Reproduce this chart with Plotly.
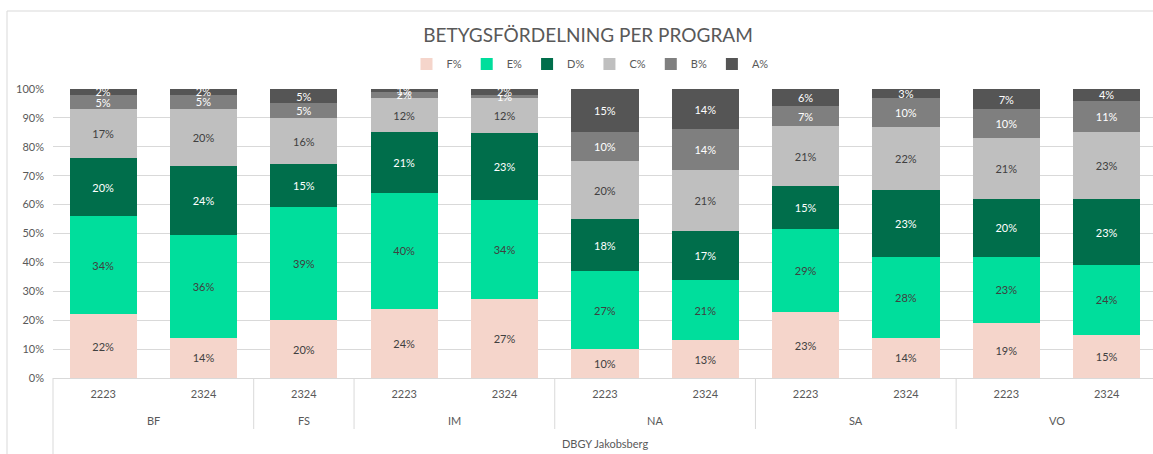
import plotly.graph_objects as go

programs = ["BF", "BF", "FS", "IM", "IM", "NA", "NA", "SA", "SA", "VO", "VO"]
years = ["2223", "2324", "2324", "2223", "2324", "2223", "2324", "2223", "2324", "2223", "2324"]
school = "DBGY Jakobsberg"

f_pct = [22, 14, 20, 24, 27, 10, 13, 23, 14, 19, 15]
e_pct = [34, 36, 39, 40, 34, 27, 21, 29, 28, 23, 24]
d_pct = [20, 24, 15, 21, 23, 18, 17, 15, 23, 20, 23]
c_pct = [17, 20, 16, 12, 12, 20, 21, 21, 22, 21, 23]
b_pct = [5, 5, 5, 2, 1, 10, 14, 7, 10, 10, 11]
a_pct = [2, 2, 5, 1, 2, 15, 14, 6, 3, 7, 4]

series = [
    ("F%", f_pct, "#F5D5CB", "#404040"),
    ("E%", e_pct, "#00DE9C", "#404040"),
    ("D%", d_pct, "#006E4B", "#FFFFFF"),
    ("C%", c_pct, "#BFBFBF", "#404040"),
    ("B%", b_pct, "#7F7F7F", "#FFFFFF"),
    ("A%", a_pct, "#555555", "#FFFFFF"),
]

cats = [f"{p} {y}" for p, y in zip(programs, years)]

FONT = "Lato"
fig = go.Figure()
for name, vals, color, tcolor in series:
    fig.add_trace(go.Bar(
        name=name,
        x=cats,
        y=vals,
        text=vals,
        texttemplate="%{text}%",
        textposition="inside",
        insidetextanchor="middle",
        constraintext="none",
        textfont=dict(color=tcolor, size=11, family=FONT),
        marker=dict(color=color, line=dict(width=0)),
    ))

W, H = 1153, 454
L, R, T, B = 53, 0, 89, 76
pw = W - L - R
ph = H - T - B

def px_x(p):
    return (p - L) / pw

def px_y(p):
    return (H - B - p) / ph

fig.update_layout(
    width=W, height=H,
    margin=dict(l=L, r=R, t=T, b=B),
    barmode="stack",
    barnorm="percent",
    bargap=0.33,
    paper_bgcolor="white",
    plot_bgcolor="white",
    font=dict(family=FONT, size=11, color="#595959"),
    uniformtext=dict(minsize=11, mode="show"),
    title=dict(
        text="BETYGSFÖRDELNING PER PROGRAM",
        x=588 / W, xanchor="center",
        y=1 - 35 / H, yanchor="middle",
        font=dict(size=19, color="#595959", family=FONT),
    ),
    legend=dict(
        orientation="h", x=590 / W, xref="container", xanchor="center",
        y=1 - 64 / H, yref="container", yanchor="middle",
        traceorder="normal",
        font=dict(size=11, color="#595959", family=FONT),
        itemwidth=30, itemsizing="constant",
    ),
    showlegend=True,
)

fig.update_yaxes(
    range=[0, 100], dtick=10, ticksuffix="%",
    showgrid=True, gridcolor="#D9D9D9", gridwidth=1,
    zeroline=False, showline=False,
    tickfont=dict(size=11, color="#595959", family=FONT),
    ticks="", ticklabelstandoff=8,
)
fig.update_xaxes(
    type="category",
    range=[-0.5, -0.5 + pw / 100.35],
    tickvals=cats, ticktext=years,
    showline=True, linecolor="#D9D9D9", linewidth=1,
    tickfont=dict(size=11, color="#595959", family=FONT),
    ticks="", ticklabelstandoff=6,
)

# program group labels and dividers
groups = []
for i, p in enumerate(programs):
    if groups and groups[-1][0] == p:
        groups[-1][2] = i
    else:
        groups.append([p, i, i])
for p, i0, i1 in groups:
    fig.add_annotation(text=p, xref="x", yref="paper",
                       x=(i0 + i1) / 2, y=px_y(420), showarrow=False,
                       xanchor="center", yanchor="middle",
                       font=dict(size=11, color="#595959", family=FONT))
for p, i0, i1 in groups[1:]:
    fig.add_shape(type="line", xref="x", yref="paper",
                  x0=i0 - 0.5, x1=i0 - 0.5, y0=0, y1=px_y(429),
                  line=dict(color="#D9D9D9", width=1))

# outer chart border and left category-axis line
fig.add_shape(type="rect", xref="paper", yref="paper",
              x0=px_x(7), x1=1.05, y0=-0.5, y1=px_y(11),
              line=dict(color="#D9D9D9", width=1), layer="below")
fig.add_shape(type="line", xref="paper", yref="paper",
              x0=0, x1=0, y0=0, y1=px_y(460),
              line=dict(color="#D9D9D9", width=1))

fig.add_annotation(text=school, xref="paper", yref="paper",
                   x=px_x(605), y=px_y(443), showarrow=False,
                   xanchor="center", yanchor="middle",
                   font=dict(size=11, color="#595959", family=FONT))

fig.write_html("out.html",
               config={"displayModeBar": False},
               post_script="document.body.style.margin='0';document.body.style.overflow='hidden';")
